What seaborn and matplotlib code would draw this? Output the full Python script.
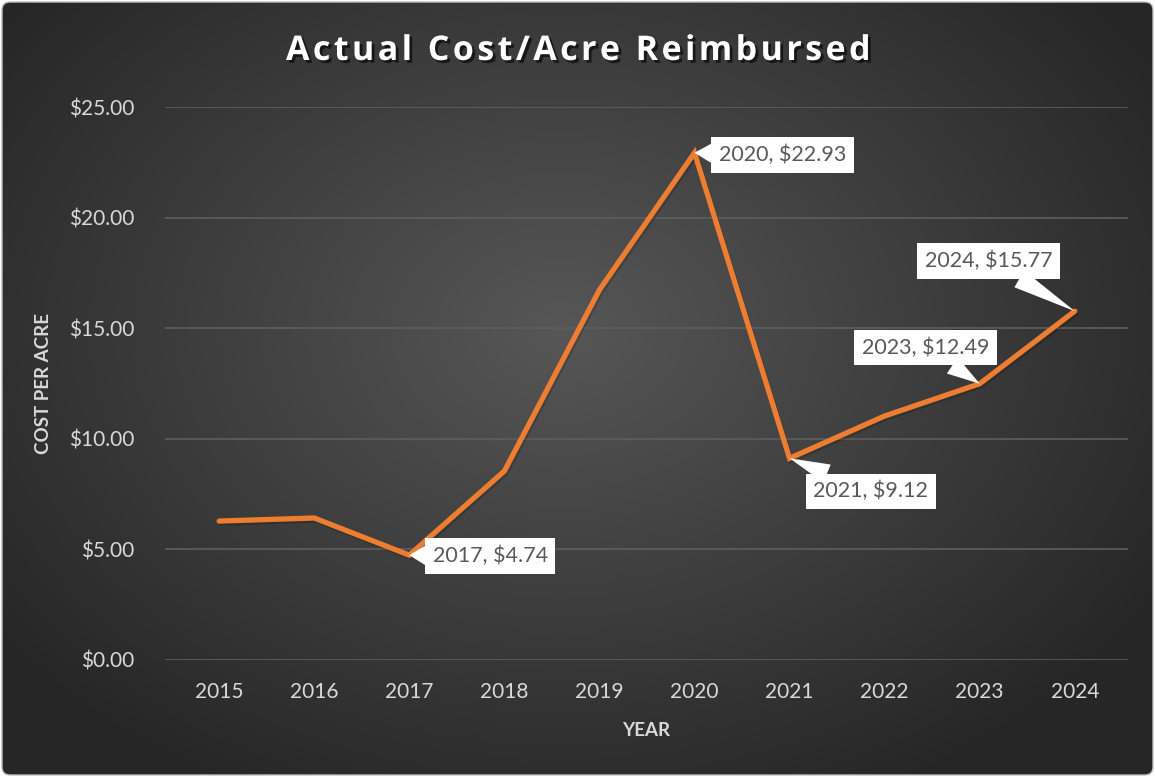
import numpy as np
import pandas as pd
import seaborn as sns
import matplotlib.pyplot as plt
import matplotlib.patheffects as pe
from matplotlib.patches import FancyBboxPatch

# data
years = [2015, 2016, 2017, 2018, 2019, 2020, 2021, 2022, 2023, 2024]
cost_per_acre = [6.28, 6.42, 4.74, 8.54, 16.73, 22.93, 9.12, 11.03, 12.49, 15.77]

# which points get a callout, and where the box sits (pixels from the point)
label_years = [2017, 2020, 2021, 2023, 2024]
label_offsets = [(81, -1), (88, -2), (81, -33), (-54, 36), (-86, 50)]

title = 'Actual Cost/Acre Reimbursed'

df = pd.DataFrame({'year': years, 'cost': cost_per_acre})

sns.set_style('white')
plt.rcParams['font.family'] = ['Lato', 'DejaVu Sans']

fig = plt.figure(figsize=(11.55, 7.77), dpi=100)
fig.patch.set_facecolor('white')

# dark radial gradient background
bg = fig.add_axes([0, 0, 1, 1], zorder=-1)
yy, xx = np.mgrid[0:777, 0:1155]
r = np.sqrt(((xx - 560) / 700.0) ** 2 + ((yy - 330) / 520.0) ** 2)
r = np.clip(r, 0, 1)
shade = 0.34 - 0.19 * r
img = np.dstack([shade, shade, shade])
im = bg.imshow(img, extent=[0, 1155, 777, 0], aspect='auto')
frame = FancyBboxPatch((2, 2), 1151, 773, boxstyle='round,pad=0,rounding_size=8',
                       transform=bg.transData, facecolor='none', edgecolor='#bfbfbf', lw=1)
bg.add_patch(frame)
im.set_clip_path(frame)
bg.set_xlim(0, 1155)
bg.set_ylim(777, 0)
bg.axis('off')

ax = fig.add_axes([165 / 1155, 1 - 660 / 777, (1128 - 165) / 1155, (660 - 107) / 777])
ax.set_facecolor('none')

# the orange line
sns.lineplot(data=df, x='year', y='cost', ax=ax, color='#ED7D31', linewidth=3.8,
             solid_capstyle='round', solid_joinstyle='miter',
             path_effects=[pe.SimpleLineShadow(offset=(1, -1.5), alpha=0.18), pe.Normal()])

ax.set_xlim(2014.43, 2024.56)
ax.set_ylim(0, 25)
ax.set_yticks([0, 5, 10, 15, 20, 25])
ax.set_yticklabels(['$%.2f' % v for v in [0, 5, 10, 15, 20, 25]])
ax.set_xticks(years)
ax.set_xticklabels([str(y) for y in years])
ax.tick_params(colors='#d9d9d9', labelsize=15, length=0)
ax.tick_params(axis='x', pad=16)
ax.tick_params(axis='y', pad=22)
ax.grid(axis='y', color='#5e5e5e', linewidth=1.2)
ax.grid(axis='x', visible=False)
for s in ax.spines.values():
    s.set_visible(False)

ax.set_xlabel('YEAR', color='#d9d9d9', fontsize=13.5, fontweight='bold', labelpad=14)
ax.set_ylabel('COST PER ACRE', color='#d9d9d9', fontsize=13.5, fontweight='bold', labelpad=12)

# callouts
for yr, off in zip(label_years, label_offsets):
    val = cost_per_acre[years.index(yr)]
    ax.annotate('%d, $%.2f' % (yr, val), xy=(yr, val), xytext=off,
                textcoords='offset pixels', ha='center', va='center',
                fontsize=15.5, color='#595959',
                bbox=dict(boxstyle='square,pad=0.35', fc='white', ec='none'),
                arrowprops=dict(arrowstyle='wedge,tail_width=0.9', fc='white', ec='none',
                                shrinkA=0, shrinkB=0))

# title is letter-spaced in the original, so put a hair space between letters
spaced_title = '\u200a'.join(title)
fig.text(0.5, 1 - 51 / 777, spaced_title, ha='center', va='center',
         color='white', fontsize=24.5, fontweight='bold', family=['Open Sans', 'DejaVu Sans'],
         path_effects=[pe.withSimplePatchShadow(offset=(2, -2), shadow_rgbFace='black', alpha=0.6)])

plt.savefig('out.png', dpi=100)
